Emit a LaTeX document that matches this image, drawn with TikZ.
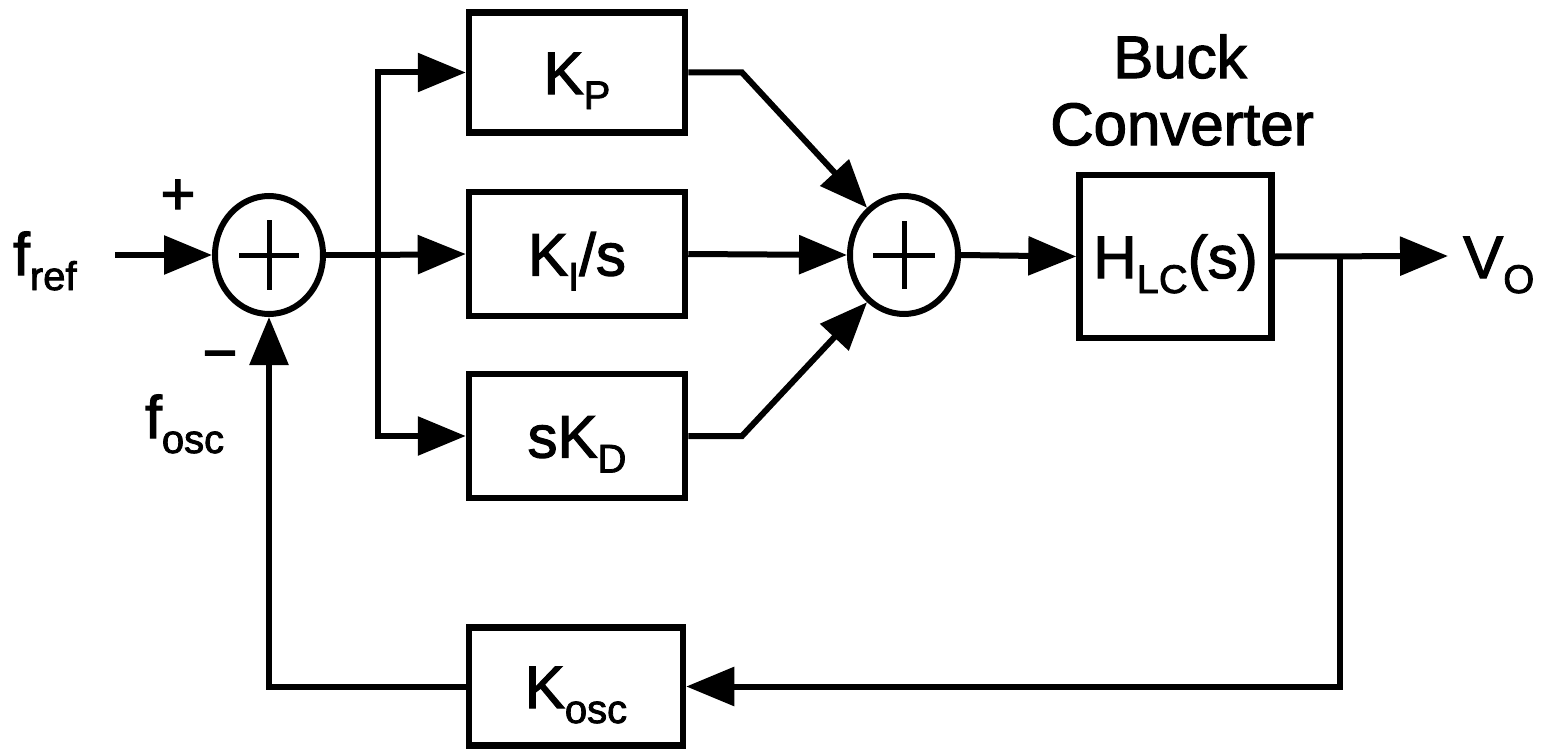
\documentclass[tikz,border=0pt]{standalone}
\usepackage{fontspec}
\setmainfont{Liberation Sans}
\newfontfamily\heavy[FakeBold=2]{Liberation Sans}
\usetikzlibrary{arrows.meta,shapes.geometric}
\newcommand{\sbs}[1]{\raisebox{-15pt}[0pt][0pt]{\fontsize{40}{40}\selectfont #1}}
\begin{document}
\begin{tikzpicture}[x=1pt,y=-1pt,
  txt/.style={font=\heavy\fontsize{60}{72}\selectfont, inner sep=0pt},
  blk/.style={draw, line width=6.5pt, inner sep=0pt, txt, text height=43pt, text depth=0pt},
  sumj/.style={draw, ellipse, line width=6pt, minimum width=108pt, minimum height=118pt, inner sep=0pt},
  wire/.style={line width=6pt},
  arr/.style={wire, -{Triangle[length=48pt,width=38pt]}},
  pl/.style={line width=5pt}
]
\path[fill=white] (0,0) rectangle (1542,752);
\useasboundingbox (0,0) rectangle (1542,752);

% blocks
\node[blk, minimum width=216pt, minimum height=120pt] (Kp) at (577,72.5) {K\sbs{P}};
\node[blk, minimum width=216pt, minimum height=124pt] (Ki) at (577,254) {K\sbs{I}/s};
\node[blk, minimum width=216pt, minimum height=124pt] (sKD) at (577,436) {sK\sbs{D}};
\node[blk, minimum width=214pt, minimum height=118pt] (Kosc) at (576,686.5) {K\sbs{osc}};
\node[blk, minimum width=192pt, minimum height=163pt] (HLC) at (1175.5,256.5) {H\sbs{LC}(s)};

% summing junctions
\node[sumj] (sum1) at (269,255) {};
\node[sumj] (sum2) at (904,255) {};
\draw[pl] ([xshift=-30pt]sum1.center) -- ([xshift=30pt]sum1.center);
\draw[pl] ([yshift=35pt]sum1.center) -- ([yshift=-35pt]sum1.center);
\draw[pl] ([xshift=-31pt]sum2.center) -- ([xshift=31pt]sum2.center);
\draw[pl] ([yshift=34pt]sum2.center) -- ([yshift=-34pt]sum2.center);

% labels
\node[txt, anchor=base west] (fref) at (13,275) {f\sbs{ref}};
\node[txt] (plus) at (178,197) {+};
\node[txt] (minus) at (220,362) {−};
\node[txt, anchor=base west] (fosc) at (145,438) {f\sbs{osc}};
\node[txt, anchor=base west] (vo) at (1463,278) {V\sbs{O}};
\node[txt, anchor=base] (buck) at (1180,78) {Buck};
\node[txt, anchor=base] (conv) at (1182,145) {Converter};

% coordinates
\coordinate (in) at (115,255);
\coordinate (br) at (378,255);
\coordinate (kpb) at (742,72.5);
\coordinate (kdb) at (742,436);
\coordinate (fb) at (1340,256);
\coordinate (out) at (1448,256);

% connectors
\draw[arr] (in) -- (sum1.west);
\draw[wire] (sum1.east) -- (br);
\draw[arr] (br) -- (Ki.west);
\draw[arr] (br) |- (Kp.west);
\draw[arr] (br) |- (sKD.west);
\draw[arr] (Kp.east) -- (kpb) -- (sum2.128);
\draw[arr] (Ki.east) -- (sum2.west);
\draw[arr] (sKD.east) -- (kdb) -- (sum2.232);
\draw[arr] (sum2.east) -- (HLC.west);
\draw[arr] (HLC.east) -- (out);
\draw[arr] (fb) |- (Kosc.east);
\draw[arr] (Kosc.west) -| (sum1.south);
\end{tikzpicture}
\end{document}
